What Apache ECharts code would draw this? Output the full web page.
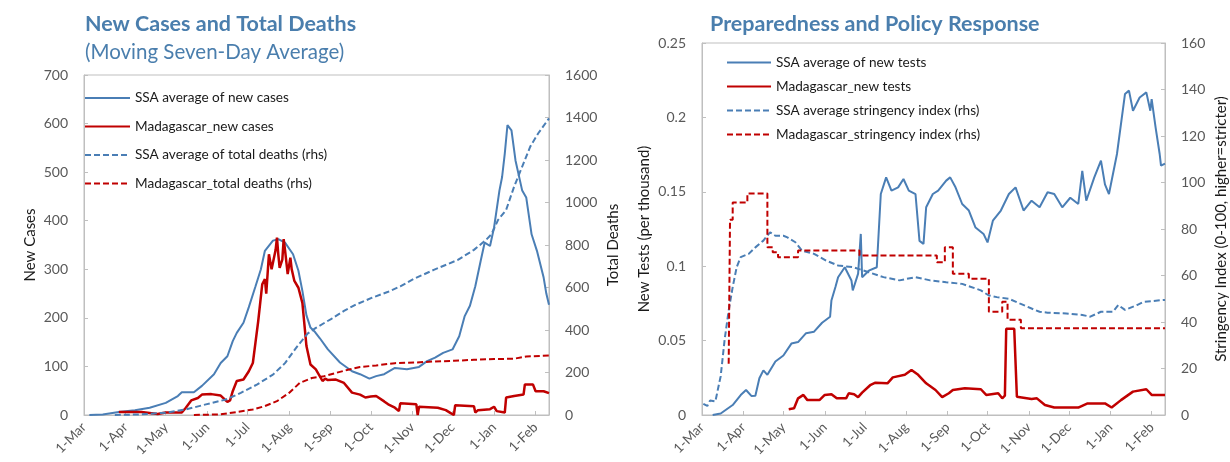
<!DOCTYPE html>
<html><head><meta charset="utf-8">
<script src="https://cdn.jsdelivr.net/npm/echarts@6/dist/echarts.min.js"></script>
<style>html,body{margin:0;padding:0;background:#fff}#c{width:1230px;height:462px}</style>
</head><body><div id="c"></div>
<script>
// ---------- tick labels ----------
const monthLabels = ['1-Mar','1-Apr','1-May','1-Jun','1-Jul','1-Aug','1-Sep','1-Oct','1-Nov','1-Dec','1-Jan','1-Feb'];
const xStart = '2020-03-01';
const xEnd = '2021-02-11';
const casesTicks = [0, 700, 100];
const deathsTicks = [0, 1600, 200];
const testsTicks = [0, 0.25, 0.05];
const stringTicks = [0, 160, 20];

// ---------- left panel ----------
const ssaNewCases = [
['2020-03-05',0],['2020-03-15',1],['2020-03-27',6],['2020-04-08',10],['2020-04-19',15],['2020-05-01',25],
['2020-05-10',39],['2020-05-13',47],['2020-05-22',47],['2020-05-28',60],['2020-06-06',84],['2020-06-11',107],
['2020-06-16',121],['2020-06-20',152],['2020-06-23',169],['2020-06-28',190],['2020-07-02',222],['2020-07-07',265],
['2020-07-11',300],['2020-07-14',338],['2020-07-20',359],['2020-07-24',362],['2020-07-29',355],['2020-08-04',331],
['2020-08-08',297],['2020-08-11',255],['2020-08-14',205],['2020-08-17',180],['2020-08-20',172],['2020-08-24',158],
['2020-08-30',135],['2020-09-08',108],['2020-09-17',90],['2020-09-23',84],['2020-09-30',75],['2020-10-05',80],
['2020-10-11',84],['2020-10-19',97],['2020-10-28',94],['2020-11-06',99],['2020-11-12',111],['2020-11-18',118],
['2020-11-24',128],['2020-12-01',135],['2020-12-06',162],['2020-12-10',203],['2020-12-14',225],['2020-12-18',265],
['2020-12-22',317],['2020-12-25',355],['2020-12-29',348],['2021-01-01',386],['2021-01-05',462],['2021-01-07',490],
['2021-01-09',538],['2021-01-11',597],['2021-01-14',586],['2021-01-17',524],['2021-01-22',462],['2021-01-25',448],
['2021-01-29',372],['2021-02-02',338],['2021-02-07',283],['2021-02-09',250],['2021-02-11',227]
];
const madNewCases = [
['2020-03-27',6],['2020-04-13',6],['2020-04-14',3],['2020-04-25',2],['2020-05-01',5],['2020-05-13',5],
['2020-05-16',15],['2020-05-20',30],['2020-05-25',35],['2020-05-28',42],['2020-06-04',43],['2020-06-11',40],
['2020-06-14',32],['2020-06-16',27],['2020-06-18',30],['2020-06-20',49],['2020-06-23',70],['2020-06-28',73],
['2020-07-02',90],['2020-07-05',107],['2020-07-07',150],['2020-07-09',193],['2020-07-12',269],['2020-07-14',280],
['2020-07-15',250],['2020-07-17',331],['2020-07-19',300],['2020-07-20',297],['2020-07-22',340],['2020-07-23',365],
['2020-07-24',330],['2020-07-25',303],['2020-07-27',320],['2020-07-28',362],['2020-07-29',340],['2020-07-31',290],
['2020-08-02',324],['2020-08-03',300],['2020-08-05',276],['2020-08-08',262],['2020-08-11',230],['2020-08-14',142],
['2020-08-17',104],['2020-08-21',94],['2020-08-26',70],['2020-08-28',75],['2020-08-30',72],['2020-09-05',73],
['2020-09-11',66],['2020-09-17',46],['2020-09-23',42],['2020-09-27',36],['2020-10-01',38],['2020-10-05',39],
['2020-10-11',28],['2020-10-14',22],['2020-10-19',15],['2020-10-22',8],['2020-10-23',24],['2020-11-04',22],
['2020-11-05',0],['2020-11-06',17],['2020-11-20',15],['2020-11-26',10],['2020-11-29',5],['2020-12-02',0],
['2020-12-03',20],['2020-12-17',18],['2020-12-18',5],['2020-12-20',10],['2020-12-29',12],['2021-01-01',17],
['2021-01-03',8],['2021-01-09',5],['2021-01-10',36],['2021-01-16',39],['2021-01-17',42],['2021-01-23',42],
['2021-01-24',63],['2021-01-30',63],['2021-02-01',49],['2021-02-07',49],['2021-02-08',45],['2021-02-11',45]
];
const ssaTotalDeaths = [
['2020-03-24',0],['2020-04-13',3],['2020-05-01',11],['2020-05-16',26],['2020-05-31',50],['2020-06-15',73],
['2020-06-26',104],['2020-07-08',143],['2020-07-20',190],['2020-07-29',244],['2020-08-07',322],['2020-08-15',384],
['2020-08-21',410],['2020-09-02',454],['2020-09-11',490],['2020-09-20',520],['2020-10-02',552],['2020-10-14',580],
['2020-10-23',605],['2020-11-02',640],['2020-11-17',683],['2020-12-05',730],['2020-12-17',777],['2020-12-26',824],
['2020-12-30',850],['2021-01-04',918],['2021-01-10',965],['2021-01-16',1075],['2021-01-22',1169],['2021-01-28',1263],
['2021-02-03',1326],['2021-02-11',1396]
];
const madTotalDeaths = [
['2020-05-22',0],['2020-06-11',3],['2020-06-23',14],['2020-07-05',26],['2020-07-14',42],['2020-07-23',65],
['2020-08-01',104],['2020-08-09',151],['2020-08-18',174],['2020-08-27',182],['2020-09-05',198],['2020-09-14',213],
['2020-09-23',226],['2020-10-05',233],['2020-10-19',244],['2020-11-03',247],['2020-11-18',252],['2020-12-02',255],
['2020-12-17',260],['2021-01-01',263],['2021-01-16',265],['2021-01-25',275],['2021-02-11',280]
];

// ---------- right panel ----------
const ssaNewTests = [
['2020-03-09',0],['2020-03-15',0.001],['2020-03-24',0.0067],['2020-03-30',0.0134],['2020-04-03',0.0168],['2020-04-07',0.0128],
['2020-04-10',0.013],['2020-04-13',0.0247],['2020-04-16',0.030],['2020-04-19',0.027],['2020-04-25',0.036],['2020-05-01',0.040],
['2020-05-07',0.048],['2020-05-12',0.049],['2020-05-18',0.055],['2020-05-24',0.056],['2020-05-30',0.062],['2020-06-05',0.066],
['2020-06-06',0.077],['2020-06-09',0.086],['2020-06-11',0.0926],['2020-06-16',0.0993],['2020-06-21',0.0904],['2020-06-22',0.0837],
['2020-06-26',0.095],['2020-06-28',0.1217],['2020-06-29',0.0926],['2020-07-04',0.097],['2020-07-10',0.0993],['2020-07-13',0.1485],
['2020-07-17',0.1597],['2020-07-21',0.1508],['2020-07-26',0.153],['2020-07-30',0.1586],['2020-08-03',0.1508],['2020-08-08',0.1485],
['2020-08-11',0.117],['2020-08-14',0.115],['2020-08-16',0.1396],['2020-08-21',0.1485],['2020-08-25',0.1508],['2020-08-31',0.1575],
['2020-09-03',0.1597],['2020-09-07',0.153],['2020-09-12',0.1418],['2020-09-17',0.1374],['2020-09-22',0.126],['2020-09-28',0.1217],
['2020-10-01',0.116],['2020-10-05',0.1306],['2020-10-11',0.1374],['2020-10-17',0.1485],['2020-10-22',0.153],['2020-10-28',0.1374],
['2020-11-03',0.144],['2020-11-09',0.1396],['2020-11-15',0.1497],['2020-11-20',0.1485],['2020-11-26',0.1396],['2020-12-02',0.146],
['2020-12-08',0.1418],['2020-12-11',0.164],['2020-12-14',0.144],['2020-12-20',0.1597],['2020-12-25',0.171],['2020-12-28',0.155],
['2020-12-31',0.1485],['2021-01-06',0.1754],['2021-01-12',0.2157],['2021-01-15',0.218],['2021-01-18',0.2045],['2021-01-23',0.2134],
['2021-01-28',0.2168],['2021-01-31',0.2045],['2021-02-01',0.2123],['2021-02-04',0.193],['2021-02-07',0.1754],['2021-02-08',0.1676],
['2021-02-11',0.169]
];
const madNewTests = [
['2020-05-05',0.0038],['2020-05-09',0.0045],['2020-05-12',0.0112],['2020-05-16',0.0135],['2020-05-19',0.010],['2020-05-28',0.010],
['2020-06-01',0.0135],['2020-06-06',0.014],['2020-06-10',0.0112],['2020-06-17',0.0112],['2020-06-19',0.0146],['2020-06-23',0.014],
['2020-06-26',0.012],['2020-06-29',0.015],['2020-07-05',0.020],['2020-07-09',0.0217],['2020-07-18',0.0213],['2020-07-22',0.0253],
['2020-07-31',0.027],['2020-08-05',0.0303],['2020-08-10',0.027],['2020-08-16',0.0213],['2020-08-23',0.0168],['2020-08-28',0.012],
['2020-09-02',0.0146],['2020-09-05',0.0168],['2020-09-14',0.018],['2020-09-26',0.0173],['2020-09-30',0.0135],['2020-10-09',0.0146],
['2020-10-12',0.0112],['2020-10-14',0.013],['2020-10-15',0.058],['2020-10-21',0.058],['2020-10-23',0.0123],['2020-11-03',0.0108],
['2020-11-07',0.0112],['2020-11-13',0.0067],['2020-11-20',0.005],['2020-12-08',0.005],['2020-12-15',0.0078],['2020-12-28',0.0078],
['2021-01-02',0.005],['2021-01-09',0.010],['2021-01-18',0.0157],['2021-01-28',0.0173],['2021-02-01',0.0135],['2021-02-11',0.0135]
];
const ssaStringency = [
['2020-03-02',4.8],['2020-03-05',3.9],['2020-03-07',6.2],['2020-03-11',5.8],['2020-03-15',16.7],['2020-03-18',32.6],
['2020-03-21',45],['2020-03-24',55],['2020-03-27',63.6],['2020-03-30',67.9],['2020-04-05',69.3],['2020-04-10',72.1],
['2020-04-16',75],['2020-04-21',78.6],['2020-04-25',77.1],['2020-05-01',77.1],['2020-05-04',76.4],['2020-05-10',74.3],
['2020-05-15',70.7],['2020-05-24',69.3],['2020-06-02',66.4],['2020-06-11',64.3],['2020-06-22',63.6],['2020-07-04',61.4],
['2020-07-15',59.3],['2020-07-27',57.9],['2020-08-08',59.3],['2020-08-19',57.9],['2020-08-31',57.1],['2020-09-12',56.4],
['2020-09-26',53.6],['2020-10-02',51.4],['2020-10-08',50.7],['2020-10-17',50],['2020-10-25',48],['2020-11-03',45.8],
['2020-11-09',44.4],['2020-11-15',44],['2020-11-29',43.7],['2020-12-11',43],['2020-12-17',42.3],['2020-12-25',44.4],
['2021-01-03',44.4],['2021-01-07',47.3],['2021-01-12',45.2],['2021-01-21',47.3],['2021-01-26',48.7],['2021-02-11',49.5]
];
const madStringency = [
['2020-03-21',22],['2020-03-22',84],['2020-03-24',91.4],['2020-04-04',95.3],['2020-04-19',72.1],['2020-04-23',70],
['2020-04-27',67.9],['2020-05-12',70.7],['2020-06-27',68.6],['2020-08-24',65.7],['2020-08-30',72.1],['2020-09-05',60.7],
['2020-09-17',58.6],['2020-10-02',44.4],['2020-10-12',48.7],['2020-10-16',41],['2020-10-26',37.3],['2021-02-11',37.3]
];

// ---------- styling constants ----------
const BLUE = '#4A7EB5', RED = '#C00000', TITLE = '#4A7EAD', GRAY = '#BFBFBF', LBL = '#595959';
const FONT = 'Lato';

function parseD(s){ const p = s.split('-'); return new Date(+p[0], +p[1]-1, +p[2]).getTime(); }
function conv(arr){ return arr.map(r => [parseD(r[0]), r[1]]); }

function xAxisFor(gi){
  return {
    type:'time', gridIndex:gi, min:parseD(xStart), max:parseD(xEnd),
    splitNumber:12, minInterval:28*864e5, maxInterval:31*864e5,
    axisLine:{show:true, lineStyle:{color:GRAY, width:1}},
    axisTick:{show:true, inside:true, length:4, lineStyle:{color:GRAY}},
    axisLabel:{rotate:45, margin:10, color:LBL, fontSize:13.5, fontFamily:FONT, hideOverlap:false,
      showMaxLabel:false,
      formatter:function(v){ const d=new Date(v); return d.getDate()===1 ? monthLabels[(d.getMonth()+10)%12] : ''; }},
    splitLine:{show:false}
  };
}
function yAxisFor(gi, ticks, pos, name, gap){
  return {
    type:'value', gridIndex:gi, position:pos, min:ticks[0], max:ticks[1], interval:ticks[2],
    name:name, nameLocation:'middle', nameRotate:90, nameGap:gap,
    nameTextStyle:{color:'#1a1a1a', fontSize:15, fontFamily:FONT},
    axisLine:{show:true, lineStyle:{color:GRAY}},
    axisTick:{show:true, inside:true, length:4, lineStyle:{color:GRAY}},
    axisLabel:{color:LBL, fontSize:14, fontFamily:FONT, margin:16, formatter:function(v){ return String(+v.toFixed(4)); }},
    splitLine:{show:false}
  };
}
function line(name, data, color, dashed, xi, yi, w, step){
  return {
    name:name, type:'line', xAxisIndex:xi, yAxisIndex:yi, data:conv(data),
    symbol:'none', showSymbol:false, step:step||false, smooth:false,
    lineStyle:{color:color, width:w, type: dashed ? [6,3] : 'solid'},
    itemStyle:{color:color}, emphasis:{disabled:true}, animation:false
  };
}

const chart = echarts.init(document.getElementById('c'), null, {renderer:'canvas'});
chart.setOption({
  backgroundColor:'#fff',
  animation:false,
  textStyle:{fontFamily:FONT},
  grid:[
    {left:84, top:75, width:465, height:340, show:true, borderColor:GRAY, borderWidth:1, backgroundColor:'transparent'},
    {left:702, top:43, width:464, height:372, show:true, borderColor:GRAY, borderWidth:1, backgroundColor:'transparent'}
  ],
  xAxis:[xAxisFor(0), xAxisFor(1)],
  yAxis:[
    yAxisFor(0, casesTicks, 'left', 'New Cases', 46),
    yAxisFor(0, deathsTicks, 'right', 'Total Deaths', 57),
    yAxisFor(1, testsTicks, 'left', 'New Tests (per thousand)', 50),
    yAxisFor(1, stringTicks, 'right', 'Stringency Index (0-100, higher=stricter)', 49)
  ],
  legend:[
    {orient:'vertical', left:84, top:91, padding:0, itemWidth:45, itemHeight:14, itemGap:14.5,
     itemStyle:{opacity:0, borderWidth:0},
     textStyle:{color:'#1a1a1a', fontSize:13.6, fontFamily:FONT}, selectedMode:false,
     data:['SSA average of new cases','Madagascar_new cases','SSA average of total deaths (rhs)','Madagascar_total deaths (rhs)']},
    {orient:'vertical', left:726, top:55.5, padding:0, itemWidth:44, itemHeight:14, itemGap:10,
     itemStyle:{opacity:0, borderWidth:0},
     textStyle:{color:'#1a1a1a', fontSize:13.6, fontFamily:FONT}, selectedMode:false,
     data:['SSA average of new tests','Madagascar_new tests','SSA average stringency index (rhs)','Madagascar_stringency index (rhs)']}
  ],
  graphic:[
    {type:'text', x:85, y:24, style:{text:'New Cases and Total Deaths', font:'bold 21.5px '+FONT, fill:TITLE, verticalAlign:'middle'}},
    {type:'text', x:85, y:52, style:{text:'(Moving Seven-Day Average)', font:'20.5px '+FONT, fill:TITLE, verticalAlign:'middle'}},
    {type:'text', x:710, y:24, style:{text:'Preparedness and Policy Response', font:'bold 21.5px '+FONT, fill:TITLE, verticalAlign:'middle'}}
  ],
  series:[
    line('SSA average of new cases', ssaNewCases, BLUE, false, 0, 0, 2),
    line('Madagascar_new cases', madNewCases, RED, false, 0, 0, 2.5),
    line('SSA average of total deaths (rhs)', ssaTotalDeaths, BLUE, true, 0, 1, 2),
    line('Madagascar_total deaths (rhs)', madTotalDeaths, RED, true, 0, 1, 2),
    line('SSA average of new tests', ssaNewTests, BLUE, false, 1, 2, 2),
    line('Madagascar_new tests', madNewTests, RED, false, 1, 2, 2.5),
    line('SSA average stringency index (rhs)', ssaStringency, BLUE, true, 1, 3, 2),
    line('Madagascar_stringency index (rhs)', madStringency, RED, true, 1, 3, 2, 'end')
  ]
});
</script>
</body></html>
